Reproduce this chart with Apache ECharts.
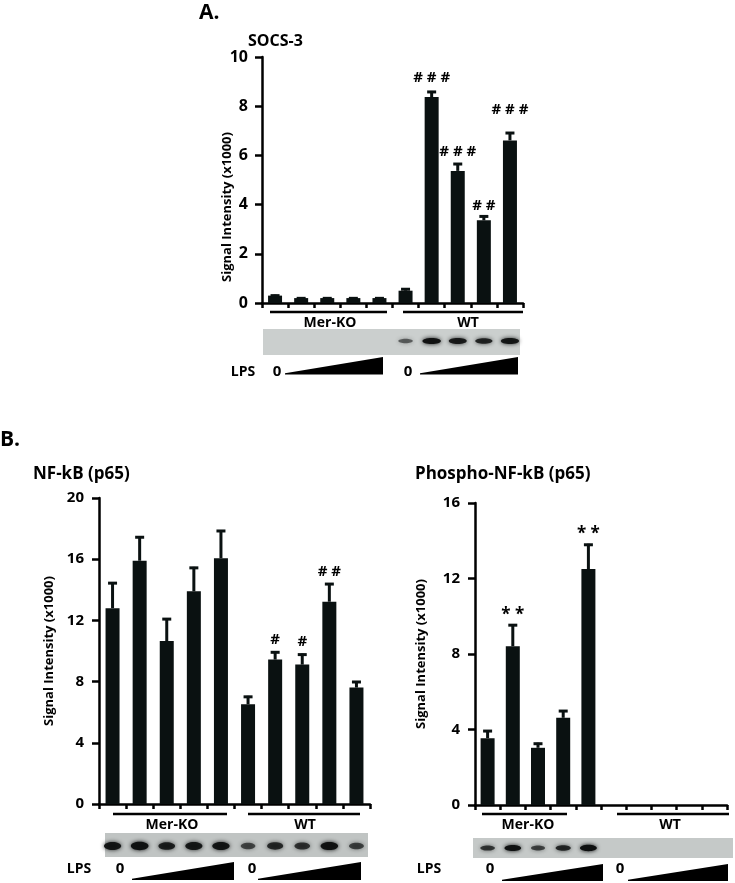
<!DOCTYPE html>
<html><head><meta charset="utf-8">
<script src="https://cdn.jsdelivr.net/npm/echarts@6/dist/echarts.min.js"></script>
<style>html,body{margin:0;padding:0;background:#fff}#c{width:735px;height:883px}</style>
</head><body><div id="c"></div>
<script>
// ---------- DATA ----------
const lanes = ['1','2','3','4','5','6','7','8','9','10'];
const groups = ['Mer-KO','WT'];
// Panel A: SOCS-3
const socsTitle = 'SOCS-3';
const socsTicks = [0,2,4,6,8,10];
const socsMean = [0.3,0.2,0.2,0.2,0.2,0.5,8.37,5.37,3.36,6.61];
const socsErr  = [0.04,0.03,0.03,0.03,0.03,0.1,0.25,0.32,0.2,0.34];
const socsMarks = ['','','','','','','# # #','# # #','# #','# # #'];
const socsBlot = [0,0,0,0,0,0.3,0.95,0.85,0.75,0.9];
// Panel B left: NF-kB (p65)
const nfkbTitle = 'NF-kB (p65)';
const nfkbTicks = [0,4,8,12,16,20];
const nfkbMean = [12.8,15.9,10.65,13.9,16.06,6.52,9.44,9.11,13.22,7.61];
const nfkbErr  = [1.7,1.6,1.5,1.6,1.85,0.55,0.54,0.72,1.22,0.43];
const nfkbMarks = ['','','','','','','#','#','# #',''];
const nfkbBlot = [0.9,0.97,0.8,0.88,0.92,0.45,0.7,0.62,0.95,0.5];
// Panel B right: Phospho-NF-kB (p65)
const pnfkbTitle = 'Phospho-NF-kB (p65)';
const pnfkbTicks = [0,4,8,12,16];
const pnfkbMean = [3.54,8.41,3.03,4.62,12.5,null,null,null,null,null];
const pnfkbErr  = [0.43,1.17,0.27,0.41,1.34,null,null,null,null,null];
const pnfkbMarks = ['','* *','','','* *','','','','',''];
const pnfkbBlot = [0.6,0.97,0.5,0.72,1.0,0,0,0,0,0];
const yName = 'Signal Intensity (x1000)';
const lpsLabel = 'LPS';
const lpsZero = '0';

// ---------- LAYOUT / STYLE ----------
const FONT = '"Open Sans", "Noto Sans", sans-serif';
const BAR = '#0a1111';
const panels = [
  {grid:{left:262, top:57, width:261, height:246}, ticks:socsTicks, mean:socsMean, err:socsErr, marks:socsMarks, blot:socsBlot,
   tickFont:16, labelMargin:14, markFont:15, markLift:[0,0,0,0,0,0,13,11,10,22],
   blotRect:[263,329,257,26], blotBg:'#cbcfce', bandY:341, bandW:18, bandH:6},
  {grid:{left:99, top:498, width:271, height:306}, ticks:nfkbTicks, mean:nfkbMean, err:nfkbErr, marks:nfkbMarks, blot:nfkbBlot,
   tickFont:15, labelMargin:15, markFont:15, markLift:[0,0,0,0,0,0,12,12,11,0],
   blotRect:[105,833,263,24], blotBg:'#c0c4c3', bandY:846, bandW:17, bandH:8},
  {grid:{left:475, top:503, width:252, height:302}, ticks:pnfkbTicks, mean:pnfkbMean, err:pnfkbErr, marks:pnfkbMarks, blot:pnfkbBlot,
   tickFont:15, labelMargin:15, markFont:17, markLift:[0,9,0,0,10,0,0,0,0,0],
   blotRect:[473,838,260,20], blotBg:'#c5c9c8', bandY:848, bandW:16, bandH:6}
];

const chart = echarts.init(document.getElementById('c'), null, {renderer:'canvas'});

const grids=[], xAxes=[], yAxes=[], series=[];
panels.forEach((p,gi)=>{
  grids.push(Object.assign({outerBoundsMode:'none', containLabel:false}, p.grid));
  xAxes.push({type:'category', gridIndex:gi, data:lanes, boundaryGap:true,
    axisLine:{show:true, onZero:false, lineStyle:{color:'#000', width:2.5}},
    axisTick:{show:true, inside:false, length:5, interval:0, alignWithLabel:false, lineStyle:{color:'#000', width:2.5}},
    axisLabel:{show:false}, splitLine:{show:false}});
  yAxes.push({type:'value', gridIndex:gi, min:p.ticks[0], max:p.ticks[p.ticks.length-1], interval:p.ticks[1]-p.ticks[0],
    axisLine:{show:true, lineStyle:{color:'#000', width:2.5}},
    axisTick:{show:true, inside:false, length:7, lineStyle:{color:'#000', width:2.5}},
    axisLabel:{color:'#000', fontFamily:FONT, fontWeight:'bold', fontSize:p.tickFont, margin:p.labelMargin},
    splitLine:{show:false}});
  series.push({type:'bar', xAxisIndex:gi, yAxisIndex:gi, data:p.mean, barWidth:14, silent:true,
    itemStyle:{color:BAR}, z:3});
  series.push({type:'custom', xAxisIndex:gi, yAxisIndex:gi, clip:false, silent:true, z:4,
    data:p.mean.map((m,i)=>[i, m==null?'-':m, p.err[i]==null?'-':p.err[i]]),
    renderItem:function(params, api){
      const i = params.dataIndex;
      const m = p.mean[i], e = p.err[i];
      if (m==null) return null;
      const top = api.coord([i, m]);
      const cap = api.coord([i, m+e]);
      const children = [
        {type:'line', shape:{x1:top[0], y1:top[1], x2:cap[0], y2:cap[1]}, style:{stroke:BAR, lineWidth:3}},
        {type:'line', shape:{x1:cap[0]-4.5, y1:cap[1]+1, x2:cap[0]+4.5, y2:cap[1]+1}, style:{stroke:BAR, lineWidth:3}}
      ];
      if (p.marks[i]) {
        children.push({type:'text', style:{text:p.marks[i], x:cap[0], y:cap[1]-p.markLift[i],
          align:'center', verticalAlign:'middle', fill:'#000',
          font:'bold '+p.markFont+'px '+FONT}});
      }
      return {type:'group', children};
    }});
  // blot bands
  series.push({type:'custom', xAxisIndex:gi, yAxisIndex:gi, clip:false, silent:true, z:5,
    data:p.blot.map((v,i)=>[i, v]),
    renderItem:function(params, api){
      const i = params.dataIndex, v = p.blot[i];
      if (!v) return null;
      const x = api.coord([i, 0])[0];
      const col = 'rgba(14,16,16,'+(0.35+0.65*v).toFixed(3)+')';
      const w = p.bandW*(0.7+0.35*v), h = p.bandH*(0.6+0.45*v);
      return {type:'ellipse', shape:{cx:x, cy:p.bandY, rx:w/2, ry:h/2},
        style:{fill:col, shadowBlur:4, shadowColor:col}};
    }});
});

// ---------- DECORATION ----------
const T = (text, x, y, size, align, extra)=>Object.assign({type:'text', x, y, z:10,
  style:{text, fill:'#000', font:'bold '+size+'px '+FONT, align:align||'center', verticalAlign:'middle'}}, extra||{});
const L = (x1,y1,x2,y2)=>({type:'line', z:10, shape:{x1,y1,x2,y2}, style:{stroke:'#000', lineWidth:2.5}});
const W = (x1,x2,yb,yt)=>({type:'polygon', z:10, shape:{points:[[x1,yb-1.2],[x2,yt],[x2,yb],[x1,yb]]}, style:{fill:'#000'}});
const R = (r,fill)=>({type:'rect', z:1, shape:{x:r[0], y:r[1], width:r[2], height:r[3]}, style:{fill}});

const graphics = [
  // Panel A
  T('A.', 199, 13, 21, 'left'),
  T(socsTitle, 248, 41, 16, 'left'),
  T(yName, 227, 207, 13, 'center', {rotation:Math.PI/2}),
  L(270,312,387,312), L(403,312,523,312),
  T(groups[0], 330, 323, 14), T(groups[1], 468, 323, 14),
  R(panels[0].blotRect, panels[0].blotBg),
  T(lpsLabel, 243, 372, 14), T(lpsZero, 277, 372, 15), W(285,383,374.5,357), T(lpsZero, 408, 372, 15), W(420,518,374.5,357),
  // Panel B left
  T('B.', 0, 440, 21, 'left'),
  T(nfkbTitle, 33, 474, 17, 'left'),
  T(yName, 49, 651, 13, 'center', {rotation:Math.PI/2}),
  L(113,814,227,814), L(248,814,360,814),
  T(groups[0], 172, 825, 14), T(groups[1], 305, 825, 14),
  R(panels[1].blotRect, panels[1].blotBg),
  T(lpsLabel, 79, 869, 14), T(lpsZero, 120, 869, 15), W(132,234,880,862), T(lpsZero, 252, 869, 15), W(258,361,880,862),
  // Panel B right
  T(pnfkbTitle, 415, 474, 17, 'left'),
  T(yName, 421, 654, 13, 'center', {rotation:Math.PI/2}),
  L(482,814,567,814), L(617,814,729,814),
  T(groups[0], 528, 825, 14), T(groups[1], 670, 825, 14),
  R(panels[2].blotRect, panels[2].blotBg),
  T(lpsLabel, 429, 869, 14), T(lpsZero, 490, 869, 15), W(502,603,881,864), T(lpsZero, 620, 869, 15), W(628,728,881,864)
];

chart.setOption({
  animation:false,
  backgroundColor:'#fff',
  grid:grids, xAxis:xAxes, yAxis:yAxes, series,
  graphic:{elements:graphics}
});
</script></body></html>
